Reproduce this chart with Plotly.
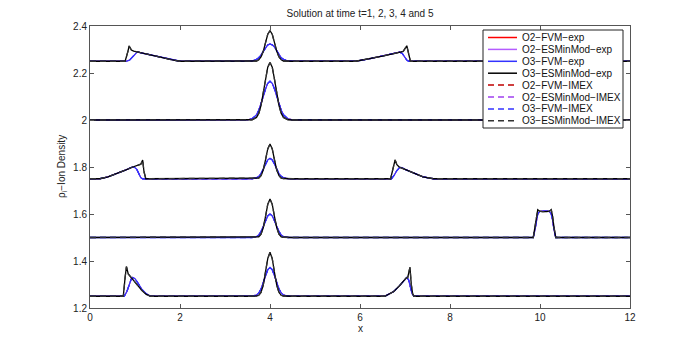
import plotly.graph_objects as go

# common x positions across the pulse at x=4
x_peak = [3.5, 3.6, 3.7, 3.75, 3.8, 3.85, 3.9, 3.95, 4.0, 4.05, 4.1, 4.15, 4.2, 4.25, 4.3, 4.4, 4.5]

# t=1 (offset 1.25)
t1_base = 1.25
t1_sharp_left_x = [0.74, 0.78, 0.81, 0.85, 0.89, 0.95, 1.05, 1.15, 1.25, 1.35]
t1_sharp_left_y = [1.25, 1.33, 1.376, 1.345, 1.335, 1.325, 1.30, 1.275, 1.258, 1.25]
t1_smooth_left_x = [0.76, 0.82, 0.87, 0.92, 0.95, 1.0, 1.07, 1.15, 1.24, 1.33, 1.4]
t1_smooth_left_y = [1.25, 1.27, 1.30, 1.325, 1.33, 1.325, 1.305, 1.28, 1.262, 1.252, 1.25]
t1_sharp_peak = [1.25, 1.25, 1.251, 1.254, 1.266, 1.297, 1.351, 1.41, 1.437, 1.41, 1.351, 1.297, 1.266, 1.254, 1.251, 1.25, 1.25]
t1_smooth_peak = [1.25, 1.251, 1.255, 1.264, 1.281, 1.306, 1.337, 1.363, 1.373, 1.363, 1.337, 1.306, 1.281, 1.264, 1.255, 1.251, 1.25]
t1_sharp_right_x = [6.55, 6.75, 6.88, 6.97, 7.02, 7.06, 7.11, 7.14, 7.17, 7.2]
t1_sharp_right_y = [1.25, 1.27, 1.295, 1.315, 1.326, 1.33, 1.373, 1.30, 1.26, 1.25]
t1_smooth_right_x = [6.55, 6.75, 6.88, 6.98, 7.04, 7.08, 7.12, 7.16, 7.2]
t1_smooth_right_y = [1.25, 1.27, 1.295, 1.318, 1.33, 1.32, 1.29, 1.26, 1.25]

# t=2 (offset 1.5)
t2_base = 1.5
t2_sharp_peak = [1.5, 1.5, 1.501, 1.503, 1.514, 1.541, 1.589, 1.641, 1.664, 1.641, 1.589, 1.541, 1.514, 1.503, 1.501, 1.5, 1.5]
t2_smooth_peak = [1.5, 1.5, 1.504, 1.511, 1.525, 1.546, 1.571, 1.592, 1.60, 1.592, 1.571, 1.546, 1.525, 1.511, 1.504, 1.5, 1.5]
t2_sharp_right_x = [9.85, 9.89, 9.92, 9.95, 9.99, 10.05, 10.15, 10.21, 10.25, 10.28, 10.31, 10.35]
t2_sharp_right_y = [1.5, 1.545, 1.59, 1.618, 1.612, 1.61, 1.61, 1.612, 1.618, 1.59, 1.545, 1.5]
t2_smooth_right_x = [9.85, 9.89, 9.92, 9.95, 9.99, 10.05, 10.15, 10.21, 10.25, 10.28, 10.31, 10.35]
t2_smooth_right_y = [1.5, 1.535, 1.575, 1.60, 1.61, 1.612, 1.612, 1.61, 1.60, 1.575, 1.535, 1.5]

# t=3 (offset 1.75)
t3_base = 1.75
t3_sharp_left_x = [0.22, 0.4, 0.6, 0.8, 0.95, 1.07, 1.13, 1.17, 1.2, 1.24]
t3_sharp_left_y = [1.75, 1.758, 1.772, 1.788, 1.80, 1.808, 1.812, 1.83, 1.78, 1.75]
t3_smooth_left_x = [0.22, 0.4, 0.6, 0.8, 0.92, 0.98, 1.04, 1.09, 1.13, 1.17]
t3_smooth_left_y = [1.75, 1.758, 1.772, 1.788, 1.798, 1.80, 1.79, 1.768, 1.754, 1.75]
t3_sharp_peak = [1.75, 1.75, 1.751, 1.753, 1.763, 1.787, 1.83, 1.877, 1.898, 1.877, 1.83, 1.787, 1.763, 1.753, 1.751, 1.75, 1.75]
t3_smooth_peak = [1.75, 1.75, 1.754, 1.76, 1.772, 1.79, 1.812, 1.83, 1.837, 1.83, 1.812, 1.79, 1.772, 1.76, 1.754, 1.75, 1.75]
t3_sharp_right_x = [6.68, 6.73, 6.78, 6.82, 6.87, 7.0, 7.2, 7.4, 7.63]
t3_sharp_right_y = [1.75, 1.795, 1.83, 1.81, 1.80, 1.79, 1.773, 1.758, 1.75]
t3_smooth_right_x = [6.7, 6.76, 6.82, 6.88, 6.94, 7.0, 7.2, 7.4, 7.63]
t3_smooth_right_y = [1.75, 1.765, 1.785, 1.798, 1.797, 1.79, 1.773, 1.758, 1.75]

# t=4 (offset 2.0)
t4_base = 2.0
t4_sharp_peak = [2.0, 2.001, 2.011, 2.028, 2.061, 2.112, 2.173, 2.225, 2.245, 2.225, 2.173, 2.112, 2.061, 2.028, 2.011, 2.001, 2.0]
t4_smooth_peak = [2.001, 2.005, 2.022, 2.041, 2.068, 2.10, 2.132, 2.156, 2.165, 2.156, 2.132, 2.10, 2.068, 2.041, 2.022, 2.005, 2.001]

# t=5 (offset 2.25)
t5_base = 2.25
t5_sharp_left_x = [0.78, 0.84, 0.87, 0.92, 0.97, 1.05, 1.2, 1.4, 1.6, 1.8, 2.0]
t5_sharp_left_y = [2.25, 2.29, 2.315, 2.298, 2.293, 2.29, 2.283, 2.274, 2.265, 2.257, 2.25]
t5_smooth_left_x = [0.8, 0.88, 0.95, 1.0, 1.05, 1.2, 1.4, 1.6, 1.8, 2.0]
t5_smooth_left_y = [2.25, 2.255, 2.27, 2.283, 2.29, 2.283, 2.274, 2.265, 2.257, 2.25]
t5_sharp_peak = [2.25, 2.25, 2.251, 2.256, 2.268, 2.292, 2.329, 2.365, 2.38, 2.365, 2.329, 2.292, 2.268, 2.256, 2.251, 2.25, 2.25]
t5_smooth_peak = [2.25, 2.251, 2.258, 2.265, 2.277, 2.293, 2.31, 2.32, 2.323, 2.32, 2.31, 2.293, 2.277, 2.265, 2.258, 2.251, 2.25]
t5_sharp_right_x = [5.9, 6.2, 6.5, 6.8, 6.9, 6.96, 7.04, 7.08, 7.12]
t5_sharp_right_y = [2.25, 2.26, 2.272, 2.285, 2.29, 2.292, 2.316, 2.28, 2.25]
t5_smooth_right_x = [5.9, 6.2, 6.5, 6.8, 6.88, 6.94, 6.99, 7.04, 7.08]
t5_smooth_right_y = [2.25, 2.26, 2.272, 2.285, 2.289, 2.283, 2.268, 2.255, 2.25]

x_min, x_max = 0, 12


def profile(base, left, peak, right):
    xs, ys = [x_min], [base]
    if left:
        xs += left[0]
        ys += left[1]
    xs += x_peak
    ys += peak
    if right:
        xs += right[0]
        ys += right[1]
    xs.append(x_max)
    ys.append(base)
    return xs, ys


sharp = [
    profile(t1_base, (t1_sharp_left_x, t1_sharp_left_y), t1_sharp_peak, (t1_sharp_right_x, t1_sharp_right_y)),
    profile(t2_base, None, t2_sharp_peak, (t2_sharp_right_x, t2_sharp_right_y)),
    profile(t3_base, (t3_sharp_left_x, t3_sharp_left_y), t3_sharp_peak, (t3_sharp_right_x, t3_sharp_right_y)),
    profile(t4_base, None, t4_sharp_peak, None),
    profile(t5_base, (t5_sharp_left_x, t5_sharp_left_y), t5_sharp_peak, (t5_sharp_right_x, t5_sharp_right_y)),
]
smooth = [
    profile(t1_base, (t1_smooth_left_x, t1_smooth_left_y), t1_smooth_peak, (t1_smooth_right_x, t1_smooth_right_y)),
    profile(t2_base, None, t2_smooth_peak, (t2_smooth_right_x, t2_smooth_right_y)),
    profile(t3_base, (t3_smooth_left_x, t3_smooth_left_y), t3_smooth_peak, (t3_smooth_right_x, t3_smooth_right_y)),
    profile(t4_base, None, t4_smooth_peak, None),
    profile(t5_base, (t5_smooth_left_x, t5_smooth_left_y), t5_smooth_peak, (t5_smooth_right_x, t5_smooth_right_y)),
]

FONT = "Liberation Sans, Arial, sans-serif"
DASH = "6px,4px"

# legend order: name, color, dash, which profile set, plot line width
methods = [
    ("O2−FVM−exp", "#ff0000", "solid", smooth, 0.9),
    ("O2−ESMinMod−exp", "#b45cff", "solid", smooth, 0.9),
    ("O3−FVM−exp", "#3333ff", "solid", smooth, 1.3),
    ("O3−ESMinMod−exp", "#000000", "solid", sharp, 1.3),
    ("O2−FVM−IMEX", "#c00000", DASH, smooth, 0.9),
    ("O2−ESMinMod−IMEX", "#a040f0", DASH, smooth, 0.9),
    ("O3−FVM−IMEX", "#3333ff", DASH, smooth, 1.3),
    ("O3−ESMinMod−IMEX", "#333333", DASH, sharp, 1.3),
]
# drawing order so that the O3 curves end up on top
draw_order = [0, 4, 1, 5, 2, 6, 3, 7]

fig = go.Figure()
for k in draw_order:
    name, color, dash, curves, lw = methods[k]
    for xs, ys in curves:
        fig.add_trace(go.Scatter(
            x=xs, y=ys, mode="lines", name=name, showlegend=False,
            line=dict(color=color, width=lw, dash=dash),
        ))

# page body adds an 8px offset, so the figure is a bit smaller than the window
OFF = 8
FW, FH = 692 - OFF, 346 - OFF
L, T, W, H = 90 - OFF, 26 - OFF, 540, 282


def px_x(p):
    return (p - OFF - L) / W


def px_y(p):
    return (T + H - (p - OFF)) / H


# MATLAB-like legend box drawn by hand (plotly rows are too tall)
fig.add_shape(type="rect", xref="paper", yref="paper",
              x0=px_x(483), x1=px_x(623), y0=px_y(128), y1=px_y(30),
              fillcolor="white", line=dict(color="#222", width=1), layer="above")
for i, (name, color, dash, _, _) in enumerate(methods):
    yy = px_y(37.5 + 11.9 * i)
    fig.add_shape(type="line", xref="paper", yref="paper",
                  x0=px_x(488), x1=px_x(517), y0=yy, y1=yy,
                  line=dict(color=color, width=1.5, dash=dash), layer="above")
    fig.add_annotation(xref="paper", yref="paper", x=px_x(520), y=yy,
                       text=name, showarrow=False, xanchor="left", yanchor="middle",
                       font=dict(size=10, color="#111", family=FONT))

# axis titles
fig.add_annotation(xref="paper", yref="paper", x=px_x(360), y=px_y(328),
                   text="x", showarrow=False, xanchor="center", yanchor="middle",
                   font=dict(size=10, color="#222", family=FONT))
fig.add_annotation(xref="paper", yref="paper", x=px_x(62), y=px_y(167),
                   text="ρ<sub>i</sub>−Ion Density", textangle=-90, showarrow=False,
                   xanchor="center", yanchor="middle",
                   font=dict(size=10, color="#222", family=FONT))

axis_style = dict(showline=True, mirror="ticks", linecolor="#555", linewidth=1,
                  ticks="inside", ticklen=4, tickcolor="#555", showgrid=False,
                  zeroline=False, tickfont=dict(size=10, color="#222", family=FONT))

fig.update_xaxes(range=[0, 12], tickvals=[0, 2, 4, 6, 8, 10, 12], **axis_style)
fig.update_yaxes(range=[1.2, 2.4], tickvals=[1.2, 1.4, 1.6, 1.8, 2.0, 2.2, 2.4],
                 ticktext=["1.2", "1.4", "1.6", "1.8", "2", "2.2", "2.4"], **axis_style)

fig.update_layout(
    width=FW, height=FH,
    margin=dict(l=L, r=FW - L - W, t=T, b=FH - T - H),
    paper_bgcolor="white", plot_bgcolor="white",
    title=dict(text="Solution at time t=1, 2, 3, 4 and 5", x=0.5, xref="paper",
               y=1 - (13 - OFF) / FH, yanchor="middle",
               font=dict(size=10, family=FONT, color="#222")),
    showlegend=False,
)

fig.write_html("out.html")
